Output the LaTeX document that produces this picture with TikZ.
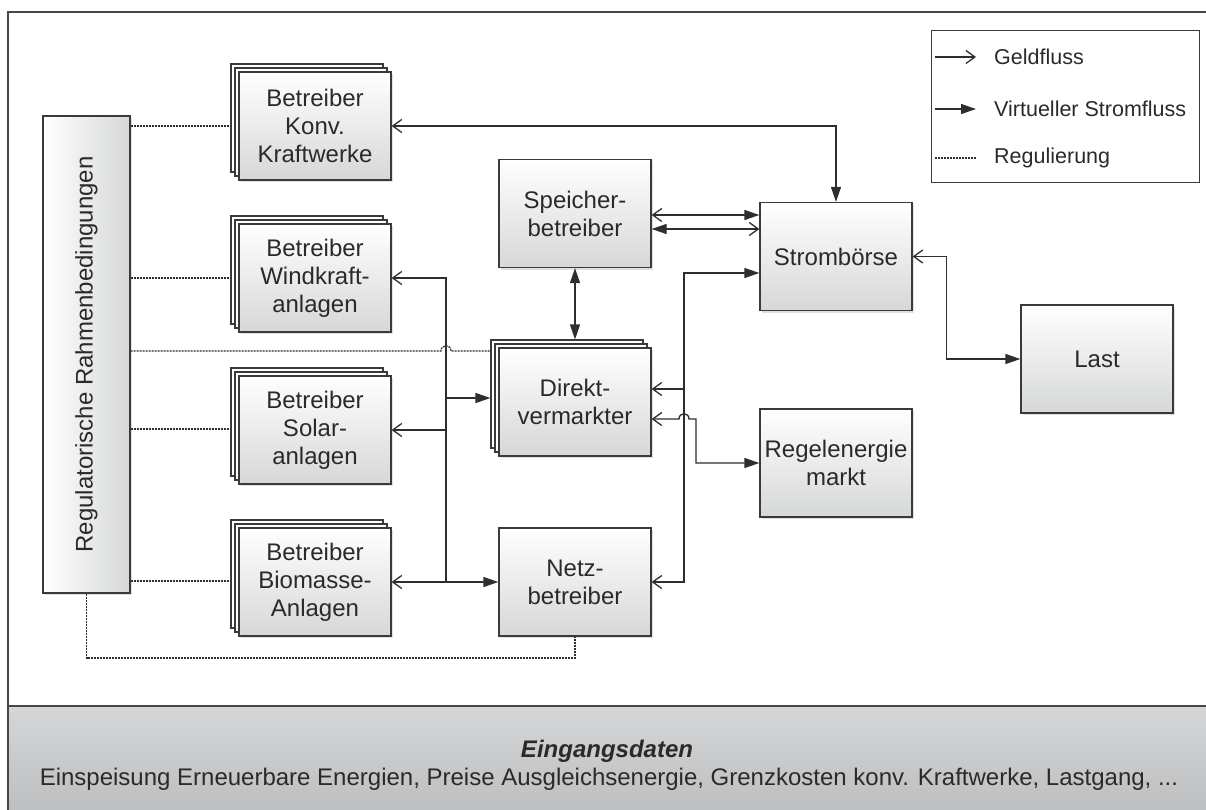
\documentclass[tikz,border=0pt]{standalone}
\usepackage{fontspec}
\setmainfont{Liberation Sans}
\usetikzlibrary{arrows.meta,shadows}
\definecolor{boxline}{HTML}{3A3A3A}
\definecolor{conn}{HTML}{2E2E2E}
\definecolor{boxgray}{HTML}{D6D7D8}
\definecolor{txt}{HTML}{2A2A2A}
\definecolor{framec}{HTML}{474747}
\definecolor{bandtop}{HTML}{D5D6D8}
\definecolor{bandbot}{HTML}{BDBEC0}
\tikzset{
  OA/.tip={Straight Barb[length=9pt,width=13pt]},
  FA/.tip={Triangle[length=15pt,width=10pt]},
  box/.style={draw=boxline, line width=1.3pt, top color=white, bottom color=boxgray,
    minimum width=152pt, minimum height=108pt, inner sep=0pt, align=center,
    font=\fontsize{24}{28}\selectfont, text=txt,
    drop shadow={shadow xshift=2pt, shadow yshift=-2pt, fill=black, opacity=0.12}},
  backbox/.style={draw=boxline, line width=1.2pt, fill=white,
    minimum width=152pt, minimum height=108pt, inner sep=0pt},
  con/.style={draw=conn, line width=1.3pt},
  regline/.style={draw=conn, line width=1.3pt, dash pattern=on 2pt off 1pt},
  legtext/.style={font=\fontsize{21.5}{25}\selectfont, text=txt, inner sep=0pt, anchor=west},
}
\begin{document}
\begin{tikzpicture}[x=1pt,y=-1pt]
\useasboundingbox (0,0) rectangle (1206,810);
\fill[white] (0,0) rectangle (1206,810);
% input data band
\shade[top color=bandtop, bottom color=bandbot] (8,706) rectangle (1214,812);
\draw[framec, line width=1.4pt] (8,706) -- (8,812);
\draw[framec, line width=2pt] (8,12) rectangle (1214,706);
\node[font=\fontsize{24}{28}\selectfont\bfseries\itshape, text=txt] (eing) at (607,751) {Eingangsdaten};
\node[font=\fontsize{24}{28}\selectfont, text=txt] (eingtext) at (609,779) {Einspeisung Erneuerbare Energien, Preise Ausgleichsenergie, Grenzkosten konv. Kraftwerke, Lastgang, ...};

% regulatory box
\node[draw=boxline, line width=1.3pt, left color=white, right color=boxgray,
      minimum width=87pt, minimum height=477pt, inner sep=0pt,
      drop shadow={shadow xshift=2pt, shadow yshift=-2pt, fill=black, opacity=0.12}] (reg) at (86.5,354.5) {};
\node[rotate=90, font=\fontsize{24}{28}\selectfont, text=txt] (regtext) at (reg.center) {Regulatorische Rahmenbedingungen};

% operator stacks
\node[backbox] (konvb2) at (307,118) {};
\node[backbox] (konvb1) at (311,122) {};
\node[box] (konv) at (315,126) {Betreiber\\Konv.\\Kraftwerke};

\node[backbox] (windb2) at (307,270) {};
\node[backbox] (windb1) at (311,274) {};
\node[box] (wind) at (315,278) {Betreiber\\Windkraft-\\anlagen};

\node[backbox] (solarb2) at (307,422) {};
\node[backbox] (solarb1) at (311,426) {};
\node[box] (solar) at (315,430) {Betreiber\\Solar-\\anlagen};

\node[backbox] (biob2) at (307,574) {};
\node[backbox] (biob1) at (311,578) {};
\node[box] (bio) at (315,582) {Betreiber\\Biomasse-\\Anlagen};

% middle column
\node[box] (speicher) at (575,213.5) {Speicher-\\betreiber};
\node[backbox] (direktb2) at (567,394) {};
\node[backbox] (direktb1) at (571,398) {};
\node[box] (direkt) at (575,402) {Direkt-\\vermarkter};
\node[box] (netz) at (575,582) {Netz-\\betreiber};

% right column
\node[box] (strom) at (836,256.5) {Strombörse};
\node[box] (regel) at (836,463) {Regelenergie\\markt};
\node[box] (last) at (1097,359) {Last};

% legend
\node[draw=boxline, line width=1pt, fill=white, minimum width=268pt, minimum height=152pt, inner sep=0pt] (legend) at (1065,107) {};
\coordinate (g1a) at (935,57); \coordinate (g1b) at (976,57);
\coordinate (g2a) at (935,109); \coordinate (g2b) at (976,109);
\coordinate (g3a) at (935,158); \coordinate (g3b) at (976,158);
\draw[con,-OA] (g1a) -- (g1b);
\draw[con,-FA] (g2a) -- (g2b);
\draw[regline] (g3a) -- (g3b);
\node[legtext] (lg1) at (994,57) {Geldfluss};
\node[legtext] (lg2) at (994,109) {Virtueller Stromfluss};
\node[legtext] (lg3) at (994,158) {Regulierung};

% regulation (dashed)
\draw[regline] (reg.east |- konv.west) -- (konvb2.west |- konv.west);
\draw[regline] (reg.east |- wind.west) -- (windb2.west |- wind.west);
\draw[regline] (reg.east |- 0,429) -- (solarb2.west |- 0,429);
\draw[regline] (reg.east |- 0,581) -- (biob2.west |- 0,581);
\draw[regline] (reg.east |- 0,351) -- (441,351) .. controls (441,344) and (451,344) .. (451,351) -- (direktb2.west |- 0,351);
\draw[regline] (reg.south) -- (reg.south |- 0,658) -| (netz.south);

% left bus
\coordinate (lv) at (446,0);
\draw[con,OA-] (wind.east) -- (lv |- wind.east) -- (lv |- bio.east);
\draw[con,OA-] (solar.east) -- (lv |- solar.east);
\draw[con,-FA] (lv |- 0,398) -- (direktb2.west |- 0,398);
\draw[con,OA-FA] (bio.east) -- (netz.west);

% Konv <-> Strombörse
\draw[con,OA-FA] (konv.east) -| (strom.north);

% Speicher <-> Strombörse
\draw[con,OA-FA] (speicher.east |- 0,215) -- (strom.west |- 0,215);
\draw[con,FA-OA] (speicher.east |- 0,229) -- (strom.west |- 0,229);

% Speicher <-> Direktvermarkter
\draw[con,FA-FA] (speicher.south) -- (speicher.south |- direktb2.north);

% right bus
\coordinate (rv) at (684,0);
\draw[con,OA-FA] (netz.east) -- (rv |- netz.east) -- (rv |- 0,273) -- (strom.west |- 0,273);
\draw[con,OA-] (direkt.east |- 0,389) -- (rv |- 0,389);

% Direktvermarkter -> Regelenergiemarkt
\draw[con,OA-FA] (direkt.east |- 0,419) -- (679,419) .. controls (679,412) and (689,412) .. (689,419) -- (696,419) -- (696,463) -- (regel.west);

% Strombörse <-> Last
\draw[con,OA-FA] (strom.east) -- ++(34,0) |- (last.west);
\end{tikzpicture}
\end{document}
